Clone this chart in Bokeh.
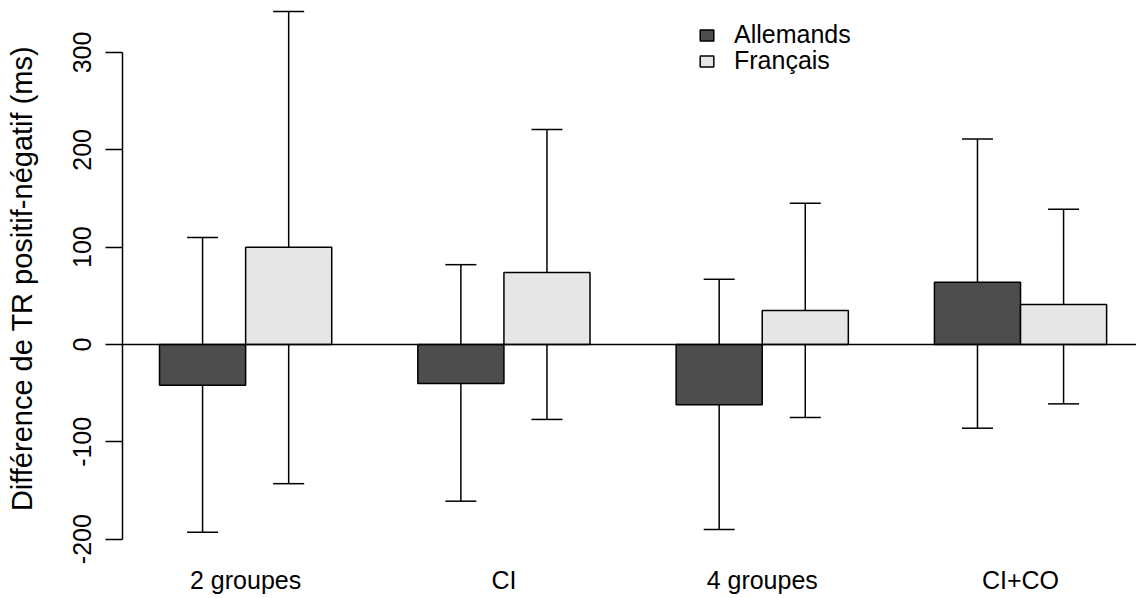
import math
from bokeh.plotting import figure
from bokeh.models import (ColumnDataSource, Whisker, TeeHead, FixedTicker, Range1d,
                          Legend, LegendItem, Span)
from bokeh.embed import file_html
from bokeh.resources import INLINE

# ---- data ----
groups = ["2 groupes", "CI", "4 groupes", "CI+CO"]
series = ["Allemands", "Français"]
allemands = [-42, -40, -62, 64]
allemands_lo = [-193, -161, -190, -86]
allemands_hi = [110, 82, 67, 211]
francais = [100, 74, 35, 41]
francais_lo = [-143, -77, -75, -61]
francais_hi = [342, 221, 145, 139]
y_ticks = [-200, -100, 0, 100, 200, 300]

# R barplot(beside=TRUE) layout: bar width 1, one unit of space between groups
n = len(groups)
x_dark = [1.5 + 3 * i for i in range(n)]
x_light = [2.5 + 3 * i for i in range(n)]
x_group = [2 + 3 * i for i in range(n)]

FONT = "Liberation Sans"
FS = "25px"
DARK = "#4d4d4d"
LIGHT = "#e6e6e6"

src_d = ColumnDataSource(dict(x=x_dark, top=allemands, lo=allemands_lo, hi=allemands_hi))
src_l = ColumnDataSource(dict(x=x_light, top=francais, lo=francais_lo, hi=francais_hi))

p = figure(frame_width=1014, frame_height=540, output_backend="svg", toolbar_location=None,
           title=None, x_range=Range1d(0.570, 12.347), y_range=Range1d(-209.6, 345.2),
           min_border_left=122, min_border_right=0, min_border_top=8, min_border_bottom=0)
p.outline_line_color = None
p.xgrid.visible = False
p.ygrid.visible = False
p.background_fill_color = "white"
p.border_fill_color = "white"

r_d = p.vbar(x="x", top="top", bottom=0, width=1, source=src_d,
             fill_color=DARK, line_color="black", line_width=1.5)
r_l = p.vbar(x="x", top="top", bottom=0, width=1, source=src_l,
             fill_color=LIGHT, line_color="black", line_width=1.5)

for src in (src_d, src_l):
    w = Whisker(base="x", upper="hi", lower="lo", source=src,
                line_color="black", line_width=1.5,
                upper_head=TeeHead(size=31, line_color="black", line_width=1.5),
                lower_head=TeeHead(size=31, line_color="black", line_width=1.5))
    p.add_layout(w)

p.add_layout(Span(location=0, dimension="width", line_color="black", line_width=1.5))

# y axis
ya = p.yaxis[0]
ya.ticker = FixedTicker(ticks=y_ticks)
ya.major_label_overrides = {t: str(t) for t in y_ticks}
ya.bounds = (-200, 300)
ya.axis_line_color = "black"
ya.axis_line_width = 1.5
ya.major_tick_line_color = "black"
ya.major_tick_line_width = 1.5
ya.major_tick_out = 17
ya.major_tick_in = 0
ya.minor_tick_line_color = None
ya.major_label_orientation = "vertical"
ya.major_label_standoff = 14
ya.major_label_text_font = FONT
ya.major_label_text_font_size = FS
ya.major_label_text_color = "black"
ya.axis_label = "Différence de TR positif-négatif (ms)"
ya.axis_label_text_font = FONT
ya.axis_label_text_font_size = "29px"
ya.axis_label_text_font_style = "normal"
ya.axis_label_text_color = "black"
ya.axis_label_standoff = 33

# x axis: category names only
xa = p.xaxis[0]
xa.ticker = FixedTicker(ticks=x_group)
xa.major_label_overrides = {x: g for x, g in zip(x_group, groups)}
xa.axis_line_color = None
xa.major_tick_line_color = None
xa.minor_tick_line_color = None
xa.major_label_standoff = 11
xa.major_label_text_font = FONT
xa.major_label_text_font_size = FS
xa.major_label_text_color = "black"

# legend (one per entry to control row spacing)
for label, rend, loc in ((series[0], r_d, (576, 499)), (series[1], r_l, (576, 473))):
    lg = Legend(items=[LegendItem(label=label, renderers=[rend])], location=loc,
                orientation="vertical", padding=0, margin=0, border_line_color=None,
                background_fill_alpha=0, glyph_width=17, glyph_height=14,
                label_standoff=19, label_text_font=FONT, label_text_font_size=FS,
                label_text_color="black", label_height=26)
    p.add_layout(lg)

open("out.html", "w").write(file_html(p, INLINE))
